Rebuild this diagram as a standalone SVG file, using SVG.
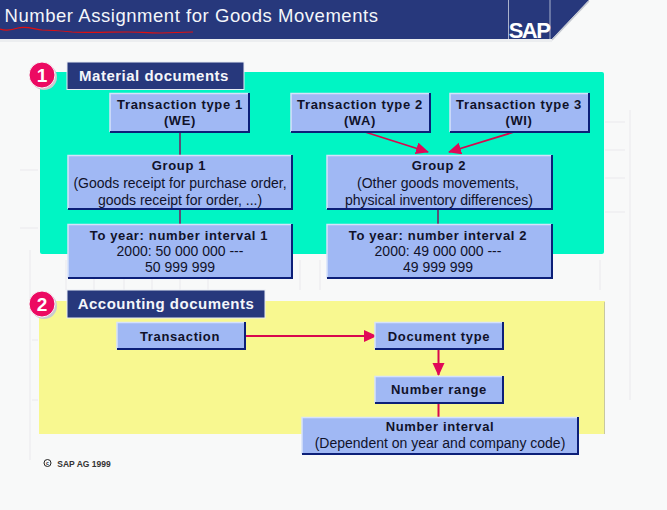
<svg xmlns="http://www.w3.org/2000/svg" width="667" height="510" viewBox="0 0 667 510">
<style>
text{font-family:"Liberation Sans",Arial,sans-serif;text-anchor:middle;fill:#10122a;font-size:14px}
.b{font-weight:bold;font-size:13px;letter-spacing:.65px}
.box{fill:#a0b8f4;stroke:none}
.hi{fill:none;stroke:#d6e2fa;stroke-width:1.5}
.lo{fill:none;stroke:#0c1f78;stroke-width:2}
.ttl{fill:#27387c;stroke:#e8ecf4;stroke-width:1}
.ttlt{fill:#f4f6fa;font-weight:bold;font-size:15px;letter-spacing:.5px}
.bdg{fill:#ec0a62;stroke:#f8f8f8;stroke-width:1}
.shd{fill:#c8ccd0}
.bdgt{fill:#fff;font-weight:bold;font-size:19px}
.c1{stroke:#5a5078;stroke-width:2;fill:none}
.c2{stroke:#d8084e;stroke-width:1.8;fill:none}
.c3{stroke:#d8084e;stroke-width:2;fill:none}
.grid{stroke:#f1f1f3;stroke-width:2;fill:none}
</style>
<defs>
<marker id="ah" markerUnits="userSpaceOnUse" markerWidth="14" markerHeight="14" refX="12" refY="6" orient="auto"><path d="M0 0L13 6L0 12z" fill="#e00858"/></marker>
</defs>
<rect width="667" height="510" fill="#f8f9f9"/>
<path class="grid" d="M30 250V460M66 260V290M94 260V290M124 260V290M152 260V290M180 260V290M208 260V290M300 260V290M320 260V290M600 260V290M630 110V400M605 122H625M605 150H625M605 178H625M605 212H625M20 170H38M20 228H38M32 340H38M32 400H38"/>
<g id="header">
<path d="M0 0H589L552 39H0z" fill="#27387c"/>
<path d="M552 40L589 1" stroke="#c4c8d0" stroke-width="1.500" fill="none"/>
<rect x="0" y="39" width="552" height="3" fill="#eceef0"/>
<path d="M508.500 0V39M550 0V39" stroke="#aab2cc" stroke-width="1" fill="none"/>
<text x="191.500" y="22" style="fill:#f4f6fa;font-size:18.500px;letter-spacing:.55px">Number Assignment for Goods Movements</text>
<text x="529" y="38" style="fill:#fff;font-weight:bold;font-size:22px;letter-spacing:-1.500px">SAP</text>
<path d="M0 29C6 31 12 30 18 28C26 26 34 29 42 30C52 30 62 31 72 32C90 33 110 32 128 32C138 32 148 33 160 33L193 32" stroke="#e01010" stroke-width="1.200" fill="none"/>
</g>
<rect id="panel-material" x="40" y="72" width="564" height="182" rx="2" fill="#00f5c4"/>
<rect id="panel-accounting" x="39" y="301" width="566" height="133" fill="#f8f890"/>
<path d="M604.500 302V434" stroke="#c8c8a0" stroke-width="1"/>
<g id="connectors">
<path class="c1" d="M180 132V155M180 209V224M438 209V224"/>
<path class="c2" d="M365 132L428 152" marker-end="url(#ah)"/>
<path class="c2" d="M514 132L449 152" marker-end="url(#ah)"/>
<path class="c2" d="M245 336H376" marker-end="url(#ah)"/>
<path class="c3" d="M438.500 350V375" marker-end="url(#ah)"/>
<path class="c3" d="M438.500 403V417"/>
</g>
<g id="badge-1"><circle class="shd" cx="44" cy="77" r="13"/><circle class="bdg" cx="42" cy="75" r="13"/><text class="bdgt" x="42" y="82">1</text></g>
<g id="label-material"><rect class="ttl" x="67" y="62" width="177" height="27.500"/><text class="ttlt" x="154" y="81">Material documents</text></g>
<g id="badge-2"><circle class="shd" cx="44" cy="306" r="13"/><circle class="bdg" cx="42" cy="304" r="13"/><text class="bdgt" x="42" y="311">2</text></g>
<g id="label-accounting"><rect class="ttl" x="67" y="290" width="198" height="28"/><text class="ttlt" x="166" y="309">Accounting documents</text></g>
<g id="tt1"><rect class="box" x="110" y="93" width="139" height="39"/><path class="hi" d="M110 132V93.500H249"/><path class="lo" d="M110 132H249V93"/><text class="b" x="180" y="109">Transaction type 1</text><text class="b" x="180" y="125">(WE)</text></g>
<g id="tt2"><rect class="box" x="291" y="93" width="139" height="39"/><path class="hi" d="M291 132V93.500H430"/><path class="lo" d="M291 132H430V93"/><text class="b" x="360" y="109">Transaction type 2</text><text class="b" x="360" y="125">(WA)</text></g>
<g id="tt3"><rect class="box" x="450" y="93" width="139" height="39"/><path class="hi" d="M450 132V93.500H589"/><path class="lo" d="M450 132H589V93"/><text class="b" x="519" y="109">Transaction type 3</text><text class="b" x="519" y="125">(WI)</text></g>
<g id="group1"><rect class="box" x="68" y="155" width="224" height="54"/><path class="hi" d="M68 209V155.500H292"/><path class="lo" d="M68 209H292V155"/><text class="b" x="179" y="170">Group 1</text><text x="180" y="188">(Goods receipt for purchase order,</text><text x="180" y="205">goods receipt for order, ...)</text></g>
<g id="group2"><rect class="box" x="327" y="155" width="225" height="54"/><path class="hi" d="M327 209V155.500H552"/><path class="lo" d="M327 209H552V155"/><text class="b" x="439" y="170">Group 2</text><text x="438" y="188">(Other goods movements,</text><text x="439" y="205">physical inventory differences)</text></g>
<g id="interval1"><rect class="box" x="68" y="224" width="224" height="54"/><path class="hi" d="M68 278V224.500H292"/><path class="lo" d="M68 278H292V224"/><text class="b" x="179" y="240">To year: number interval 1</text><text x="180" y="256">2000: 50 000 000 ---</text><text x="180" y="272">50 999 999</text></g>
<g id="interval2"><rect class="box" x="327" y="224" width="225" height="54"/><path class="hi" d="M327 278V224.500H552"/><path class="lo" d="M327 278H552V224"/><text class="b" x="438" y="240">To year: number interval 2</text><text x="438" y="256">2000: 49 000 000 ---</text><text x="438" y="272">49 999 999</text></g>
<g id="transaction"><rect class="box" x="117" y="322" width="128" height="27"/><path class="hi" d="M117 349V322.500H245"/><path class="lo" d="M117 349H245V322"/><text class="b" x="180" y="341">Transaction</text></g>
<g id="doctype"><rect class="box" x="375" y="322" width="128" height="27"/><path class="hi" d="M375 349V322.500H503"/><path class="lo" d="M375 349H503V322"/><text class="b" x="439" y="341">Document type</text></g>
<g id="numrange"><rect class="box" x="375" y="376" width="128" height="27"/><path class="hi" d="M375 403V376.500H503"/><path class="lo" d="M375 403H503V376"/><text class="b" x="439" y="394">Number range</text></g>
<g id="numinterval"><rect class="box" x="302" y="417" width="276" height="37"/><path class="hi" d="M302 454V417.500H578"/><path class="lo" d="M302 454H578V417"/><text class="b" x="440" y="431">Number interval</text><text x="440" y="448">(Dependent on year and company code)</text></g>
<g id="copyright"><circle cx="47.500" cy="463" r="3.500" fill="none" stroke="#222" stroke-width="1"/><text x="47.500" y="465" style="font-size:5px;font-weight:bold">c</text><text x="84" y="466.500" style="font-size:8.500px;font-weight:bold;fill:#333">SAP AG 1999</text></g>
</svg>
